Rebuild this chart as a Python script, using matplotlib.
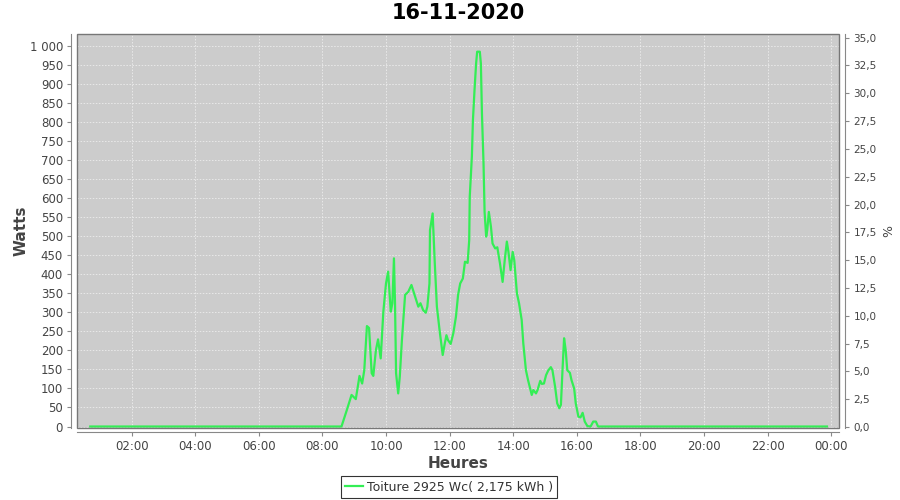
import matplotlib
matplotlib.use("Agg")
import matplotlib.pyplot as plt
from matplotlib.patches import Rectangle
from matplotlib.ticker import FuncFormatter, FixedLocator

times = ["00:42", "08:36", "08:46", "08:55", "09:03", "09:10", "09:15", "09:19", "09:24", "09:28",
         "09:33", "09:36", "09:41", "09:45", "09:50", "09:55", "10:00", "10:04", "10:09", "10:12",
         "10:15", "10:17", "10:19", "10:23", "10:26", "10:30", "10:36", "10:42", "10:48", "10:55",
         "11:01", "11:05", "11:10", "11:15", "11:18", "11:22", "11:23", "11:28", "11:32", "11:36",
         "11:41", "11:47", "11:51", "11:54", "11:57", "12:02", "12:07", "12:12", "12:16", "12:20",
         "12:25", "12:29", "12:34", "12:37", "12:38", "12:42", "12:44", "12:47", "12:50", "12:52",
         "12:57", "12:59", "13:01", "13:04", "13:06", "13:09", "13:11", "13:14", "13:18", "13:21",
         "13:26", "13:30", "13:35", "13:40", "13:44", "13:48", "13:51", "13:55", "13:59", "14:02",
         "14:07", "14:11", "14:16", "14:19", "14:24", "14:28", "14:35", "14:38", "14:43", "14:46",
         "14:51", "14:54", "14:58", "15:02", "15:06", "15:11", "15:14", "15:19", "15:23", "15:27",
         "15:30", "15:33", "15:36", "15:39", "15:42", "15:47", "15:50", "15:55", "15:58", "16:03",
         "16:07", "16:11", "16:15", "16:20", "16:26", "16:31", "16:36", "16:40", "23:52"]
watts = [0, 0, 43, 83, 72, 133, 113, 148, 264, 259,
         140, 133, 201, 229, 179, 302, 376, 407, 302, 324,
         442, 324, 140, 87, 131, 227, 346, 354, 372, 341,
         315, 324, 306, 299, 315, 376, 516, 560, 430, 315,
         254, 188, 219, 240, 227, 217, 245, 289, 346, 376,
         389, 433, 430, 490, 604, 709, 805, 884, 954, 985,
         985, 954, 823, 692, 564, 499, 516, 564, 525, 481,
         468, 471, 429, 380, 437, 486, 459, 411, 459, 437,
         350, 324, 280, 219, 148, 122, 83, 96, 87, 96,
         120, 112, 113, 135, 147, 156, 148, 105, 61, 48,
         57, 148, 232, 201, 148, 141, 122, 100, 61, 26,
         24, 36, 13, 1, 0, 13, 13, 0, 0]

x_ticks = [2, 4, 6, 8, 10, 12, 14, 16, 18, 20, 22, 24]
x_labels = ["02:00", "04:00", "06:00", "08:00", "10:00", "12:00",
            "14:00", "16:00", "18:00", "20:00", "22:00", "00:00"]
title = "16-11-2020"
legend_label = "Toiture 2925 Wc( 2,175 kWh )"

hours = [int(t[:2]) + int(t[3:]) / 60 for t in times]

plt.rcParams['font.family'] = ['DejaVu Sans']
fig = plt.figure(figsize=(9, 5), dpi=100)
ax = fig.add_axes([77/900, 1 - 428/500, (839 - 77)/900, (428 - 34)/500])
ax.set_facecolor('#cccccc')
line_color = '#33ee55'
ax.plot(hours, watts, color=line_color, lw=1.6, label=legend_label, zorder=3)

ax.set_xlim(0.283, 24.245)
ax.set_ylim(-3.9, 1031.5)

ax.yaxis.set_major_locator(FixedLocator(list(range(0, 1001, 50))))
ax.yaxis.set_major_formatter(FuncFormatter(lambda v, p: f"{int(v):,}".replace(",", " ")))
ax.set_xticks(x_ticks)
ax.set_xticklabels(x_labels)

ax.grid(True, color='#f0f0f0', linestyle=(0, (2, 2)), linewidth=0.55, zorder=1)
ax.set_axisbelow(True)

for s in ['top', 'right']:
    ax.spines[s].set_visible(False)
ax.spines['left'].set_position(('outward', 4))
ax.spines['bottom'].set_position(('outward', 3))
for s in ['left', 'bottom']:
    ax.spines[s].set_color('#888888')
ax.tick_params(axis='both', colors='#888888', labelcolor='#444444', labelsize=8.5, length=3)
ax.tick_params(axis='x', pad=3)
ax.tick_params(axis='y', pad=3)

ax.add_patch(Rectangle((0, 0), 1, 1, transform=ax.transAxes, fill=False,
                       edgecolor='#777777', lw=1, clip_on=False, zorder=5))

ax.set_ylabel("Watts", fontsize=11, fontweight='bold', color='#444444', labelpad=1)
ax.set_xlabel("Heures", fontsize=11, fontweight='bold', color='#444444', labelpad=2)
ax.set_title(title, fontsize=15, fontweight='bold', pad=11)

ax2 = ax.twinx()
ax2.set_ylim(-0.09, 35.33)
ax2.yaxis.set_major_locator(FixedLocator([i * 2.5 for i in range(15)]))
ax2.yaxis.set_major_formatter(FuncFormatter(lambda v, p: f"{v:.1f}".replace(".", ",")))
for s in ['top', 'left', 'bottom']:
    ax2.spines[s].set_visible(False)
ax2.spines['right'].set_position(('outward', 4))
ax2.spines['right'].set_color('#888888')
ax2.tick_params(axis='y', colors='#888888', labelcolor='#444444', labelsize=7.5, length=3)
ax2.set_ylabel("%", fontsize=9, color='#444444', labelpad=4)

leg = fig.legend(loc='center', bbox_to_anchor=(449/900, 1 - 487/500), frameon=True,
                 fontsize=9, handlelength=1.4, handletextpad=0.3, borderpad=0.35,
                 fancybox=False)
leg.get_frame().set_edgecolor('black')
leg.get_frame().set_linewidth(0.8)
for t in leg.get_texts():
    t.set_color('#333333')

fig.savefig("out.png", dpi=100)
